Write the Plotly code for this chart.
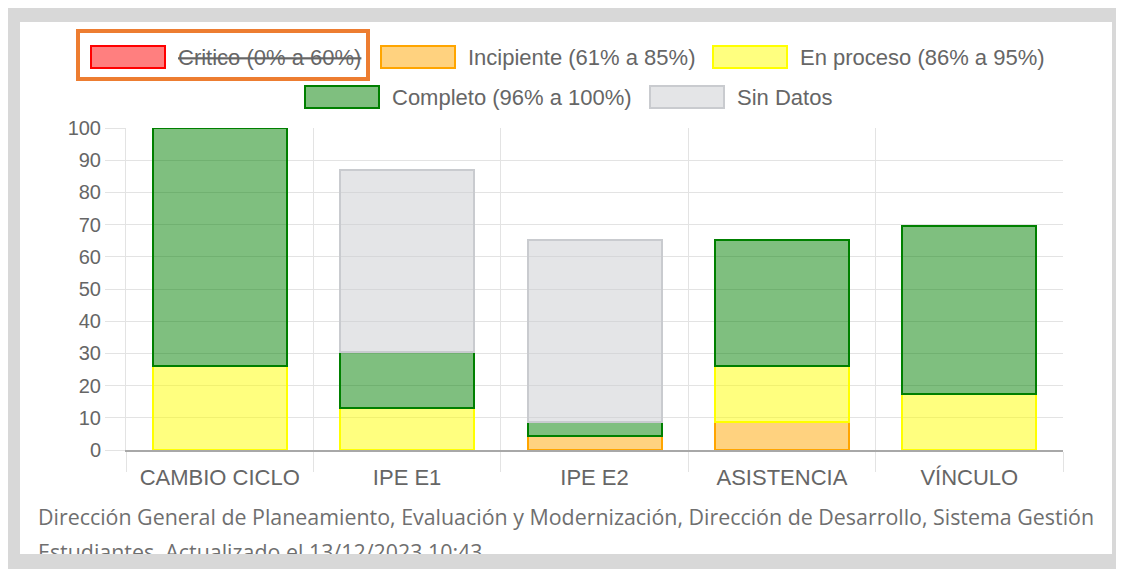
import plotly.graph_objects as go

# reference canvas and the page's default 8px body margin
W, H = 1124, 569
OFF = 8
FIG_W, FIG_H = W - OFF, H - OFF

# ---------------- data ----------------
categories = ["CAMBIO CICLO", "IPE E1", "IPE E2", "ASISTENCIA", "VÍNCULO"]
critico = [0, 0, 0, 0, 0]
incipiente = [0, 0, 4.35, 8.70, 0]
en_proceso = [26.09, 13.04, 0, 17.39, 17.39]
completo = [73.91, 17.39, 4.35, 39.13, 52.17]
sin_datos = [0, 56.52, 56.52, 0, 0]

series_names = ["Critico (0% a 60%)", "Incipiente (61% a 85%)", "En proceso (86% a 95%)",
                "Completo (96% a 100%)", "Sin Datos"]
y_ticks = [0, 10, 20, 30, 40, 50, 60, 70, 80, 90, 100]
footer_lines = [
    "Dirección General de Planeamiento, Evaluación y Modernización, Dirección de Desarrollo, Sistema Gestión",
    "Estudiantes. Actualizado el 13/12/2023 10:43",
]

# ---------------- style ----------------
fills = ["rgba(255,0,0,0.5)", "rgba(255,165,0,0.5)", "rgba(255,255,0,0.5)",
         "rgba(0,128,0,0.5)", "rgba(201,203,207,0.5)"]
borders = ["rgb(255,0,0)", "rgb(255,165,0)", "rgb(255,255,0)", "rgb(0,128,0)", "rgb(201,203,207)"]
FONT = "Liberation Sans, Arial, sans-serif"
TXT = "#666666"
GRID = "#e3e3e3"
FRAME = "#d8d8d8"


def px(x):
    return (x - OFF) / FIG_W


def py(y):
    return 1 - (y - OFF) / FIG_H


fig = go.Figure()
xs = list(range(len(categories)))
all_vals = [critico, incipiente, en_proceso, completo, sin_datos]
for i, vals in enumerate(all_vals):
    # zero-height segments are not drawn (no stray border lines)
    shown = [v if v else None for v in vals]
    fig.add_trace(go.Bar(
        x=xs, y=shown, name=series_names[i], width=0.715,
        marker=dict(color=fills[i], line=dict(color=borders[i], width=2)),
        visible=(False if i == 0 else True), showlegend=False, hoverinfo="skip",
        xaxis="x", yaxis="y",
    ))

# footer text, clipped at the frame edge
fig.add_trace(go.Scatter(
    x=[38, 38], y=[520, 555], text=footer_lines, mode="text",
    textposition="middle right", cliponaxis=True, hoverinfo="skip", showlegend=False,
    textfont=dict(family="Open Sans, sans-serif", size=21.4, color="#6f6f6f"),
    xaxis="x2", yaxis="y2",
))

fig.update_layout(
    width=FIG_W, height=FIG_H, autosize=False,
    margin=dict(l=0, r=0, t=0, b=0, pad=0),
    paper_bgcolor=FRAME, plot_bgcolor="rgba(0,0,0,0)",
    barmode="stack", bargap=0,
    showlegend=False,
    xaxis=dict(
        domain=[px(126), px(1063)], range=[-0.5, 4.5],
        tickvals=xs, ticktext=categories,
        ticks="outside", ticklen=7, tickcolor="rgba(0,0,0,0)",
        showgrid=False, zeroline=False,
        showline=True, linecolor="#a8a8a8", linewidth=1.5,
        tickfont=dict(family=FONT, size=22, color=TXT),
        minor=dict(tickvals=[-0.5, 0.5, 1.5, 2.5, 3.5, 4.5], showgrid=True, gridcolor=GRID,
                   gridwidth=1, ticks="outside", ticklen=20, tickcolor=GRID),
        automargin=False, fixedrange=True,
    ),
    yaxis=dict(
        domain=[py(450), py(128)], range=[0, 100],
        tickvals=y_ticks, ticks="outside", ticklen=20, tickcolor=GRID,
        showgrid=True, gridcolor=GRID, gridwidth=1, zeroline=False,
        showline=True, linecolor=GRID,
        tickfont=dict(family=FONT, size=20, color=TXT),
        automargin=False, fixedrange=True,
    ),
    xaxis2=dict(domain=[px(20), px(1112)], range=[20, 1112], visible=False,
                anchor="y2", fixedrange=True),
    yaxis2=dict(domain=[py(554), py(500)], range=[554, 500], visible=False,
                anchor="x2", fixedrange=True),
)

shapes = []
# white card inside the grey frame
shapes.append(dict(type="rect", xref="paper", yref="paper", x0=px(20), x1=px(1112),
                   y0=py(22), y1=py(554), fillcolor="white", line=dict(width=0), layer="below"))

# custom legend (wide Chart.js style swatches)
legend_items = [
    (91, 57, 0), (381, 57, 1), (713, 57, 2),
    (305, 97, 3), (650, 97, 4),
]
annotations = []
for lx, ly, idx in legend_items:
    shapes.append(dict(type="rect", xref="paper", yref="paper",
                       x0=px(lx), x1=px(lx + 74), y0=py(ly - 11), y1=py(ly + 11),
                       fillcolor=fills[idx], line=dict(color=borders[idx], width=2)))
    label = series_names[idx]
    if idx == 0:
        label = f"<s>{label}</s>"
    annotations.append(dict(xref="paper", yref="paper", x=px(lx + 85), y=py(ly),
                            xanchor="left", yanchor="middle", showarrow=False, text=label,
                            font=dict(family=FONT, size=22, color=TXT)))

# orange highlight box around the first legend entry
shapes.append(dict(type="rect", xref="paper", yref="paper", x0=px(78), x1=px(368),
                   y0=py(31), y1=py(79), line=dict(color="#ed7d31", width=4),
                   fillcolor="rgba(0,0,0,0)"))

fig.update_layout(shapes=shapes, annotations=annotations)
fig.write_html("out.html")
